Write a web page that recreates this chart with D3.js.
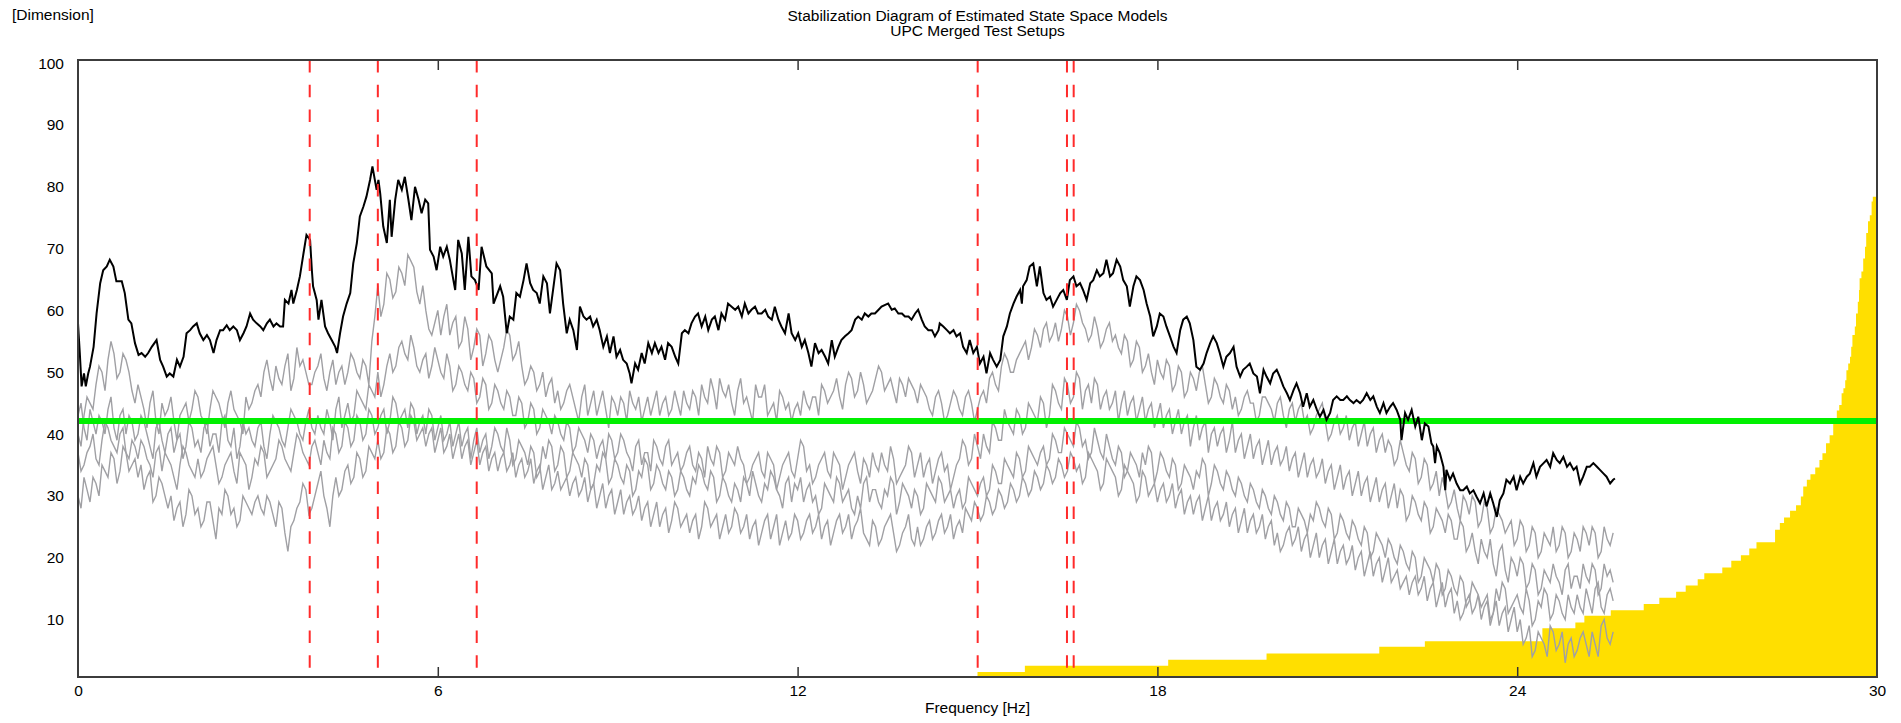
<!DOCTYPE html>
<html>
<head>
<meta charset="utf-8">
<script src="https://cdn.jsdelivr.net/npm/d3@7"></script>
<style>
html, body { margin: 0; padding: 0; background: #fff; }
svg { display: block; }
text { font-family: "Liberation Sans", Arial, sans-serif; fill: #000; }
</style>
</head>
<body>
<svg id="chart" width="1901" height="723"></svg>
<script>
// ---- axis ticks ----
const xTicks = [0, 6, 12, 18, 24, 30];
const xInnerTicks = [6, 12, 18, 24];
const yTicks = [10, 20, 30, 40, 50, 60, 70, 80, 90, 100];

// ---- picked natural frequencies [Hz] ----
const modeHz = [3.864, 5.0, 6.649, 15.003, 16.492, 16.604];

// ---- dimension threshold ----
const thresholdDim = 42.1;

// ---- stable-pole count histogram (step starts [Hz] and heights) ----
const stackStartHz = [15.00,15.79,18.18,19.82,21.70,22.46,24.42,24.97,25.12,25.56,26.11,26.37,26.65,26.81,27.01,27.12,27.42,27.57,27.73,27.87,27.99,28.30,28.38,28.45,28.55,28.65,28.73,28.77,28.83,28.89,28.97,29.04,29.09,29.15,29.21,29.27,29.33,29.37,29.41,29.44,29.47,29.49,29.52,29.55,29.57,29.59,29.63,29.65,29.68,29.70,29.71,29.74,29.77,29.80,29.82,29.85,29.88,29.91,29.93];
const stackCount = [1.5,2.5,3.5,4.5,5.6,6.5,8.6,9.5,10.6,11.5,12.5,13.5,14.5,15.5,16.5,17.5,18.4,19.5,20.4,21.5,22.5,24.5,25.6,26.5,27.6,28.5,29.9,31.5,32.6,33.5,34.6,35.8,36.9,38.5,39.8,42.3,43.8,44.7,46.6,47.4,48.7,50.3,51.4,52.5,54.1,56.0,57.4,59.5,61.4,63.3,65.2,66.3,68.4,70.3,72.5,74.4,75.4,77.6,78.4];
const stackEndHz = 30;

// ---- merged-setup trace (frequency [Hz], dimension) ----
const mergedTrace = [
[0.00,57.9],[0.03,53.1],[0.06,47.7],[0.10,49.8],[0.13,47.7],[0.17,49.8],[0.20,50.9],[0.26,54.1],[0.31,59.5],[0.37,64.4],[0.42,66.5],[0.48,67.1],[0.53,68.2],[0.59,67.1],[0.64,64.7],[0.73,64.7],[0.78,62.8],[0.84,58.5],[0.89,57.9],[0.95,54.7],
[1.01,52.8],[1.06,53.1],[1.12,52.5],[1.17,53.1],[1.23,54.1],[1.31,55.2],[1.37,52.0],[1.42,50.9],[1.48,49.3],[1.53,49.8],[1.59,49.3],[1.65,52.0],[1.70,50.9],[1.76,52.5],[1.81,56.3],[1.87,56.8],[1.92,57.4],[1.98,57.9],
[2.03,56.3],[2.09,55.2],[2.15,56.0],[2.20,55.2],[2.26,53.1],[2.31,55.2],[2.37,56.8],[2.42,56.8],[2.48,57.6],[2.53,56.8],[2.59,57.4],[2.65,56.8],[2.70,55.2],[2.76,56.3],[2.81,57.4],[2.87,59.5],[2.92,58.5],[2.98,57.9],
[3.04,57.4],[3.09,56.8],[3.15,57.9],[3.20,58.5],[3.26,57.4],[3.31,57.9],[3.37,57.4],[3.42,57.4],[3.45,61.7],[3.51,61.1],[3.56,63.3],[3.59,61.1],[3.65,63.3],[3.70,65.5],[3.76,69.2],[3.81,72.2],[3.87,71.4],[3.90,66.5],[3.92,63.9],[3.98,61.7],
[4.01,58.5],[4.06,61.7],[4.12,57.4],[4.17,56.3],[4.23,55.2],[4.29,54.1],[4.32,53.1],[4.37,56.3],[4.42,59.0],[4.48,61.1],[4.54,62.8],[4.59,67.6],[4.65,70.9],[4.70,75.2],[4.76,76.8],[4.81,78.4],[4.87,81.1],[4.91,83.3],[4.95,81.1],[4.98,79.5],
[5.01,81.1],[5.04,78.9],[5.09,73.6],[5.15,70.9],[5.20,77.9],[5.23,71.9],[5.29,77.9],[5.34,81.1],[5.40,79.5],[5.45,81.6],[5.51,77.9],[5.56,74.6],[5.62,80.0],[5.68,77.9],[5.73,75.7],[5.79,77.9],[5.84,77.3],[5.87,69.8],[5.93,68.7],[5.98,66.5],
[6.04,70.3],[6.09,68.7],[6.15,70.3],[6.20,68.2],[6.26,64.9],[6.29,63.3],[6.34,71.4],[6.40,69.2],[6.45,63.3],[6.51,71.9],[6.56,65.5],[6.62,64.9],[6.68,63.3],
[6.73,70.3],[6.81,67.1],[6.90,66.0],[6.93,61.1],[7.04,63.9],[7.09,62.2],[7.15,56.3],[7.20,59.0],[7.26,58.5],[7.31,62.8],[7.37,62.2],[7.43,64.9],[7.48,67.6],[7.54,64.4],[7.59,63.3],[7.65,62.8],[7.70,61.1],[7.76,65.5],[7.82,64.4],[7.87,59.5],[7.93,63.9],[7.98,67.6],
[8.04,66.5],[8.09,61.1],[8.15,56.3],[8.20,58.5],[8.26,56.8],[8.32,53.6],[8.37,60.6],[8.43,59.0],[8.48,58.5],[8.54,59.0],[8.59,57.4],[8.65,58.5],[8.70,56.8],[8.76,54.1],[8.82,55.8],[8.87,53.1],[8.93,55.8],[8.98,52.5],
[9.04,53.6],[9.09,52.0],[9.15,51.4],[9.20,49.8],[9.23,48.2],[9.29,51.4],[9.34,50.4],[9.40,53.1],[9.45,51.4],[9.51,54.7],[9.57,53.1],[9.62,54.7],[9.68,53.1],[9.73,54.1],[9.79,52.0],[9.84,54.7],[9.90,54.1],[9.96,52.5],
[10.01,51.4],[10.07,56.3],[10.12,56.8],[10.18,56.3],[10.23,57.9],[10.29,59.0],[10.34,59.5],[10.40,57.4],[10.46,59.0],[10.51,56.8],[10.57,58.5],[10.62,59.0],[10.68,56.8],[10.73,59.5],[10.79,58.5],[10.84,61.1],[10.90,60.6],[10.96,60.1],
[11.01,60.6],[11.07,59.0],[11.12,61.1],[11.18,59.5],[11.23,60.1],[11.29,60.6],[11.34,59.5],[11.40,59.5],[11.46,60.1],[11.51,59.0],[11.57,58.5],[11.62,60.6],[11.68,58.5],[11.73,57.4],[11.79,56.3],[11.85,59.5],[11.90,56.3],[11.96,55.2],
[12.01,56.3],[12.07,54.1],[12.12,55.2],[12.18,53.1],[12.23,50.9],[12.29,54.7],[12.35,53.1],[12.40,53.6],[12.46,52.5],[12.51,51.4],[12.57,55.2],[12.62,52.5],[12.68,54.1],[12.73,55.2],[12.79,55.8],[12.85,56.3],[12.90,56.8],[12.96,58.5],
[13.01,59.0],[13.07,58.5],[13.12,59.5],[13.18,59.0],[13.23,59.5],[13.29,59.5],[13.35,60.1],[13.40,60.6],[13.46,60.9],[13.51,61.1],[13.57,60.1],[13.62,60.3],[13.68,59.5],[13.74,59.5],[13.79,59.0],[13.85,59.0],[13.90,58.5],[13.96,59.5],
[14.01,60.1],[14.07,58.5],[14.12,57.4],[14.18,56.8],[14.24,56.8],[14.29,55.8],[14.35,56.8],
[14.37,57.9],[14.43,57.4],[14.49,56.8],[14.54,56.3],[14.60,56.8],[14.65,55.8],[14.71,56.3],[14.76,54.1],[14.82,53.1],[14.87,55.2],[14.93,53.1],[14.99,54.1],
[15.04,51.4],[15.10,52.5],[15.15,49.8],[15.21,53.1],[15.26,52.0],[15.32,50.9],[15.38,52.0],[15.43,55.8],[15.49,57.4],[15.54,59.5],[15.60,61.1],[15.65,62.2],[15.71,63.3],[15.74,61.1],[15.76,63.9],[15.82,64.9],[15.87,67.1],[15.93,67.6],[15.99,63.9],
[16.04,67.1],[16.10,62.8],[16.15,61.7],[16.21,62.2],[16.26,60.6],[16.32,61.7],[16.38,62.8],[16.43,63.3],[16.49,61.7],[16.54,64.9],[16.60,65.5],[16.65,63.9],[16.71,64.4],[16.76,63.3],[16.82,61.7],[16.88,64.4],[16.93,64.9],[16.99,66.5],
[17.04,65.5],[17.10,66.0],[17.15,68.2],[17.21,65.5],[17.26,66.0],[17.32,68.2],[17.38,67.1],[17.43,64.9],[17.49,63.9],[17.54,60.6],[17.60,63.9],[17.65,65.5],[17.71,64.9],[17.77,63.3],[17.82,61.1],[17.88,59.0],[17.93,55.8],[17.99,57.4],
[18.04,59.5],[18.10,59.0],[18.15,57.4],[18.21,55.8],[18.27,54.1],[18.32,53.1],[18.38,56.8],[18.43,58.5],[18.49,59.0],[18.54,57.9],[18.60,55.2],[18.65,50.9],[18.71,50.4],[18.77,51.4],[18.82,53.1],[18.88,54.7],[18.93,55.8],[18.99,54.7],
[19.04,53.1],[19.10,50.9],[19.15,52.5],[19.21,53.1],[19.27,54.1],[19.32,50.9],[19.38,49.3],[19.43,50.4],[19.49,50.9],[19.54,51.4],[19.60,49.8],[19.66,49.3],[19.71,46.6],[19.77,50.4],[19.82,49.3],[19.88,48.2],[19.93,49.8],[19.99,50.4],
[20.04,49.3],[20.10,47.7],[20.16,46.6],[20.21,45.5],[20.27,47.1],[20.32,48.2],[20.38,46.6],[20.43,44.4],[20.49,46.6],[20.54,44.4],[20.60,45.5],[20.66,43.9],[20.71,42.8],[20.77,43.9],[20.82,42.3],[20.88,43.4],[20.93,45.5],[20.99,46.1],
[21.05,45.5],[21.10,45.5],[21.16,46.1],[21.21,45.5],[21.27,45.0],[21.32,45.5],[21.38,45.0],[21.43,45.5],[21.49,46.6],[21.55,45.5],[21.60,46.1],[21.66,44.4],[21.71,43.4],[21.77,45.0],[21.82,43.4],[21.88,44.4],[21.93,45.0],[21.99,43.9],
[22.05,42.3],[22.07,39.0],[22.13,43.4],[22.18,42.3],[22.24,43.9],[22.30,41.2],[22.35,42.8],[22.41,39.0],[22.46,41.7],[22.52,41.2],[22.57,38.5],[22.60,38.0],[22.63,35.3],[22.66,38.0],[22.71,36.9],[22.77,34.7],[22.80,30.9],[22.82,34.2],[22.88,32.6],[22.93,33.6],[22.99,32.0],
[23.05,30.9],[23.10,30.9],[23.16,31.5],[23.21,30.4],[23.27,30.9],[23.32,29.9],[23.38,28.8],[23.44,30.4],[23.49,28.3],[23.55,30.4],[23.60,28.8],[23.66,26.6],[23.71,29.3],[23.77,30.4],[23.82,32.6],[23.88,32.0],[23.94,33.1],[23.99,30.9],
[24.05,33.1],[24.10,32.0],[24.16,33.1],[24.21,33.6],[24.27,35.3],[24.32,33.1],[24.38,34.7],[24.44,35.3],[24.49,35.8],[24.55,34.7],[24.60,36.9],[24.66,35.8],[24.71,35.3],[24.77,36.3],[24.83,34.7],[24.88,35.3],[24.94,34.2],[24.99,34.7],
[25.05,32.0],[25.10,33.1],[25.16,34.7],[25.21,34.7],[25.27,35.3],[25.33,34.7],[25.38,34.2],[25.44,33.6],[25.49,33.1],[25.55,32.0],[25.60,32.6],[25.63,32.8]
];

// ---- single test-setup traces, sampled on a common frequency grid [Hz] ----
const setupFreqHz = [
0,0.05,0.1,0.15,0.2,0.25,0.3,0.35,0.4,0.45,0.5,0.55,0.6,0.65,0.7,0.75,0.8,0.85,0.9,0.95,
1,1.05,1.1,1.15,1.2,1.25,1.3,1.35,1.4,1.45,1.5,1.55,1.6,1.65,1.7,1.75,1.8,1.85,1.9,1.95,
2,2.05,2.1,2.15,2.2,2.25,2.3,2.35,2.4,2.45,2.5,2.55,2.6,2.65,2.7,2.75,2.8,2.85,2.9,2.95,
3,3.05,3.1,3.15,3.2,3.25,3.3,3.35,3.4,3.45,3.5,3.55,3.6,3.65,3.7,3.75,3.8,3.85,3.9,3.95,
4,4.05,4.1,4.15,4.2,4.25,4.3,4.35,4.4,4.45,4.5,4.55,4.6,4.65,4.7,4.75,4.8,4.85,4.9,4.95,
5,5.05,5.1,5.15,5.2,5.25,5.3,5.35,5.4,5.45,5.5,5.55,5.6,5.65,5.7,5.75,5.8,5.85,5.9,5.95,
6,6.05,6.1,6.15,6.2,6.25,6.3,6.35,6.4,6.45,6.5,6.55,6.6,6.65,6.7,6.75,6.8,6.85,6.9,6.95,
7,7.05,7.1,7.15,7.2,7.25,7.3,7.35,7.4,7.45,7.5,7.55,7.6,7.65,7.7,7.75,7.8,7.85,7.9,7.95,
8,8.05,8.1,8.15,8.2,8.25,8.3,8.35,8.4,8.45,8.5,8.55,8.6,8.65,8.7,8.75,8.8,8.85,8.9,8.95,
9,9.05,9.1,9.15,9.2,9.25,9.3,9.35,9.4,9.45,9.5,9.55,9.6,9.65,9.7,9.75,9.8,9.85,9.9,9.95,
10,10.05,10.1,10.15,10.2,10.25,10.3,10.35,10.4,10.45,10.5,10.55,10.6,10.65,10.7,10.75,10.8,10.85,10.9,10.95,
11,11.05,11.1,11.15,11.2,11.25,11.3,11.35,11.4,11.45,11.5,11.55,11.6,11.65,11.7,11.75,11.8,11.85,11.9,11.95,
12,12.05,12.1,12.15,12.2,12.25,12.3,12.35,12.4,12.45,12.5,12.55,12.6,12.65,12.7,12.75,12.8,12.85,12.9,12.95,
13,13.05,13.1,13.15,13.2,13.25,13.3,13.35,13.4,13.45,13.5,13.55,13.6,13.65,13.7,13.75,13.8,13.85,13.9,13.95,
14,14.05,14.1,14.15,14.2,14.25,14.3,14.35,14.4,14.45,14.5,14.55,14.6,14.65,14.7,14.75,14.8,14.85,14.9,14.95,
15,15.05,15.1,15.15,15.2,15.25,15.3,15.35,15.4,15.45,15.5,15.55,15.6,15.65,15.7,15.75,15.8,15.85,15.9,15.95,
16,16.05,16.1,16.15,16.2,16.25,16.3,16.35,16.4,16.45,16.5,16.55,16.6,16.65,16.7,16.75,16.8,16.85,16.9,16.95,
17,17.05,17.1,17.15,17.2,17.25,17.3,17.35,17.4,17.45,17.5,17.55,17.6,17.65,17.7,17.75,17.8,17.85,17.9,17.95,
18,18.05,18.1,18.15,18.2,18.25,18.3,18.35,18.4,18.45,18.5,18.55,18.6,18.65,18.7,18.75,18.8,18.85,18.9,18.95,
19,19.05,19.1,19.15,19.2,19.25,19.3,19.35,19.4,19.45,19.5,19.55,19.6,19.65,19.7,19.75,19.8,19.85,19.9,19.95,
20,20.05,20.1,20.15,20.2,20.25,20.3,20.35,20.4,20.45,20.5,20.55,20.6,20.65,20.7,20.75,20.8,20.85,20.9,20.95,
21,21.05,21.1,21.15,21.2,21.25,21.3,21.35,21.4,21.45,21.5,21.55,21.6,21.65,21.7,21.75,21.8,21.85,21.9,21.95,
22,22.05,22.1,22.15,22.2,22.25,22.3,22.35,22.4,22.45,22.5,22.55,22.6,22.65,22.7,22.75,22.8,22.85,22.9,22.95,
23,23.05,23.1,23.15,23.2,23.25,23.3,23.35,23.4,23.45,23.5,23.55,23.6,23.65,23.7,23.75,23.8,23.85,23.9,23.95,
24,24.05,24.1,24.15,24.2,24.25,24.3,24.35,24.4,24.45,24.5,24.55,24.6,24.65,24.7,24.75,24.8,24.85,24.9,24.95,
25,25.05,25.1,25.15,25.2,25.25,25.3,25.35,25.4,25.45,25.5,25.55,25.6
];

const setupA = [
40,38,43,46,45,44,48,51,50,47,52,55,53,49,50,53,52,50,47,45,
48,46,44,41,45,47,42,40,45,43,44,46,42,39,43,44,45,42,44,47,
46,43,42,40,44,47,46,45,43,41,45,47,44,43,42,40,46,44,45,47,
48,46,50,52,49,47,51,49,48,51,53,47,49,54,51,52,50,48,48,50,
51,53,49,47,50,52,48,50,51,48,50,53,52,50,49,52,51,48,55,59,
64,59,61,66,65,62,63,67,66,64,69,68,67,63,61,64,60,57,56,58,
60,56,59,61,56,58,59,54,55,59,57,52,54,57,56,51,53,56,55,52,
50,52,54,57,56,52,53,55,51,48,49,51,50,47,48,50,46,48,49,45,
47,44,45,47,48,46,44,42,46,48,43,45,47,43,45,47,44,41,46,45,
43,46,45,42,47,45,44,46,42,44,46,43,45,47,43,45,46,43,44,47,
45,43,47,45,44,47,46,43,48,46,45,49,47,44,49,47,46,48,45,43,
47,49,45,46,44,42,48,46,46,48,43,44,45,42,47,46,44,45,42,44,
45,43,47,45,44,46,46,43,48,47,45,46,47,49,46,44,48,50,49,46,
47,50,48,45,46,47,49,51,50,47,48,49,47,45,49,48,46,49,48,47,
45,48,47,46,44,43,46,47,45,42,43,45,47,46,44,43,46,47,45,42,
44,46,47,45,49,50,48,47,51,53,52,50,50,52,53,54,55,52,54,57,
56,54,57,58,55,56,58,55,57,60,59,56,58,61,60,58,57,55,56,59,
57,54,55,57,58,55,56,54,53,56,55,51,52,55,54,50,51,53,50,48,
52,50,49,52,51,47,48,51,50,46,47,50,49,47,50,51,48,45,46,49,
48,46,45,48,47,44,46,43,44,46,47,45,45,42,43,46,46,45,44,42,
45,46,43,41,44,45,42,44,45,42,43,40,41,43,44,45,42,39,40,42,
43,40,41,43,39,41,42,38,40,42,38,40,41,37,39,40,37,39,38,35,
36,39,37,35,34,37,36,32,33,36,35,31,32,34,30,33,31,28,29,31,
28,26,30,29,27,30,29,25,26,29,28,24,25,28,27,26,24,25,26,22,
23,26,25,21,22,25,24,20,21,24,23,22,25,21,22,25,24,20,21,24,
23,21,25,24,22,25,24,20,21,25,23,22,24
];

const setupB = [
43,45,41,39,44,42,40,43,42,40,44,46,41,39,43,44,40,43,42,39,
40,43,42,40,38,36,41,42,39,37,40,41,37,39,40,36,38,42,41,38,
39,37,41,42,38,40,40,37,42,43,39,38,41,36,38,42,40,41,39,38,
41,42,38,36,40,43,42,41,39,38,41,44,43,42,40,39,42,44,41,40,
43,41,40,44,42,39,44,46,41,43,45,42,43,47,46,45,44,48,47,46,
50,46,48,51,53,50,51,54,55,53,52,56,54,51,50,52,53,49,51,54,
52,50,49,53,51,47,48,51,50,48,47,50,49,45,46,49,48,44,45,48,
47,45,44,47,46,43,43,46,45,41,42,45,44,40,41,44,43,42,40,43,
42,40,39,42,41,37,38,41,40,39,37,40,39,36,38,39,36,40,39,36,
37,40,39,37,36,34,38,39,35,37,37,34,39,38,36,35,38,39,35,36,
37,34,35,37,38,35,34,37,36,33,38,36,35,38,37,33,34,37,36,35,
38,36,35,32,33,35,36,37,34,33,37,36,35,31,33,35,36,37,34,33,
36,39,38,34,35,32,33,35,36,37,34,33,37,36,35,31,33,35,36,37,
34,32,36,35,33,37,35,34,37,35,34,38,36,32,33,34,35,38,37,33,
35,37,33,35,36,32,34,36,37,34,35,31,33,35,36,39,38,35,36,40,
38,36,40,38,37,42,41,39,39,44,42,41,40,44,43,40,41,45,44,43,
42,46,45,41,43,48,47,45,44,49,48,45,46,50,49,44,47,48,45,49,
48,44,46,47,44,45,47,42,45,47,43,45,46,42,44,46,42,44,45,41,
43,45,41,43,44,40,42,44,40,42,43,38,41,43,39,41,42,37,40,41,
38,40,41,37,39,42,37,39,40,36,38,40,36,38,39,35,37,39,35,37,
38,35,36,38,34,36,37,33,35,37,33,35,36,33,34,36,32,34,35,31,
33,35,31,33,34,30,32,34,30,32,33,29,31,33,29,31,32,28,30,32,
28,31,30,26,27,30,29,27,26,29,28,24,25,28,27,26,24,27,26,23,
23,26,25,21,22,24,21,19,23,21,20,23,19,17,21,22,18,16,20,19,
17,20,19,15,16,19,18,14,15,18,17,16,19,17,16,14,18,19,15,17,
17,15,19,17,16,19,18,14,15,19,17,18,16
];

const setupC = [
37,34,35,37,38,40,36,35,39,42,41,39,38,37,40,41,37,36,39,38,
36,39,38,36,35,33,37,38,34,37,36,35,33,31,35,38,37,35,34,33,
36,33,34,36,37,38,35,32,33,35,36,37,34,32,37,36,35,31,33,36,
35,38,37,33,34,35,36,39,38,36,35,34,37,40,39,37,36,35,38,39,
37,35,39,37,36,41,40,37,38,42,41,38,39,43,42,39,40,44,43,40,
41,43,44,40,42,46,45,42,43,44,41,45,44,40,42,43,40,44,43,39,
41,43,39,40,42,38,40,42,38,40,41,36,39,41,37,39,40,36,38,41,
40,38,37,41,39,35,36,39,38,37,35,38,37,33,34,38,36,39,38,34,
35,38,37,33,34,37,36,35,33,36,35,31,32,35,34,37,36,32,33,36,
35,33,32,35,34,30,31,34,33,36,35,31,32,35,34,32,31,34,33,30,
31,34,33,31,30,33,32,35,34,32,31,34,33,29,30,33,32,30,29,32,
31,29,33,32,30,34,32,30,29,32,31,34,33,31,30,28,32,33,29,32,
31,33,29,31,32,29,30,27,28,32,31,30,29,33,32,29,30,31,28,27,
30,28,32,33,29,31,31,29,28,31,30,33,32,27,29,32,31,30,28,31,
30,27,28,32,31,30,29,33,32,29,30,31,28,30,31,28,29,33,32,31,
30,32,33,30,31,35,34,32,32,36,35,34,33,37,36,33,34,38,37,36,
35,37,38,35,36,40,39,37,37,41,40,39,38,42,41,38,39,36,37,41,
39,37,36,40,38,36,35,38,37,33,34,37,36,35,33,37,35,38,37,32,
34,37,36,34,33,36,35,31,32,35,34,33,31,34,33,36,35,30,32,35,
34,32,31,34,33,31,30,33,32,30,29,32,31,29,28,31,30,28,27,30,
29,27,26,29,28,25,25,28,27,26,24,27,26,29,28,26,25,28,27,23,
24,27,26,24,23,26,25,23,22,25,24,20,21,24,23,22,20,23,22,20,
19,22,21,19,18,21,20,16,17,20,19,18,16,19,18,14,15,18,17,15,
14,17,16,12,13,16,15,14,12,13,14,10,11,15,13,16,15,11,12,13,
14,12,11,15,13,9,10,13,12,15,14,10,11,14,13,11,10,14,12,11,
14,12,11,15,13,11,15,16,12,11,14,15,13
];

const setupD = [
30,28,33,31,29,33,32,30,35,34,33,37,36,32,34,38,37,34,35,36,
33,35,31,33,34,29,30,33,32,30,28,30,26,28,29,25,27,31,30,27,
28,25,26,29,29,26,23,28,27,31,30,27,28,25,26,30,29,28,27,29,
30,28,27,30,29,27,25,29,28,24,21,25,26,28,29,32,31,27,28,30,
32,34,30,28,25,30,33,30,31,34,35,32,33,37,36,33,34,38,37,36,
39,36,37,41,40,37,38,42,41,38,39,43,42,39,40,41,38,40,41,37,
39,41,37,38,40,36,38,40,36,38,39,35,37,39,35,37,38,34,36,37,
34,36,37,34,35,37,33,35,36,33,34,36,32,34,35,31,33,35,31,32,
34,31,32,33,30,32,33,30,31,33,29,31,32,28,30,32,28,30,31,27,
29,31,27,29,30,27,28,30,26,28,29,25,27,29,25,27,28,24,26,29,
28,25,26,27,24,26,27,23,25,29,28,25,26,27,23,25,27,24,25,28,
27,24,25,27,23,25,26,22,24,26,27,23,25,27,22,24,26,23,24,27,
26,23,24,26,27,24,25,27,23,25,26,22,24,26,27,24,25,27,23,25,
26,28,24,23,22,26,25,22,23,25,26,27,24,21,22,24,25,27,23,22,
25,22,23,25,26,23,24,26,27,24,25,27,23,25,26,24,28,27,26,29,
28,26,27,30,29,27,28,31,30,28,29,32,31,29,30,33,32,30,31,34,
33,31,32,35,34,32,33,36,35,33,34,37,36,34,35,32,33,37,36,35,
34,31,32,36,35,34,33,30,31,35,34,33,32,29,30,34,33,30,31,32,
29,31,32,29,30,32,28,30,31,27,29,30,27,29,30,26,28,30,26,28,
29,26,27,29,25,27,28,24,26,28,24,26,27,24,25,27,23,25,26,22,
24,21,22,24,25,22,23,25,21,23,24,20,22,24,20,22,23,19,21,23,
19,21,22,19,20,22,18,20,21,17,19,21,17,19,20,16,18,20,16,17,
18,15,16,17,14,16,17,14,15,17,13,15,16,12,14,16,12,14,15,11,
13,10,11,13,14,11,12,14,10,12,13,9,11,13,9,11,12,8,10,12,
8,10,6,7,9,4,5,8,7,6,4,9,8,5,6,8,3,6,7,4,
5,7,8,6,4,8,6,4,9,10,7,6,8
];

const setupTraces = [setupA, setupB, setupC, setupD];

// ---- layout ----
const plot = { left: 78, right: 1877, top: 60, bottom: 677 };
const fontSize = "15.5px";

const svg = d3.select("#chart");
svg.append("rect").attr("width", 1901).attr("height", 723).attr("fill", "#fff");

const x = d3.scaleLinear().domain([0, 30]).range([plot.left, plot.right]);
const y = d3.scaleLinear().domain([0.7, 100.5]).range([plot.bottom, plot.top]);

svg.append("clipPath").attr("id", "plot-clip")
  .append("rect")
  .attr("x", plot.left).attr("y", plot.top)
  .attr("width", plot.right - plot.left).attr("height", plot.bottom - plot.top);

const layer = svg.append("g").attr("clip-path", "url(#plot-clip)");

// stable-pole histogram (yellow staircase)
const stackData = stackStartHz.map((f, i) => [f, stackCount[i]]);
stackData.push([stackEndHz, stackCount[stackCount.length - 1]]);
layer.append("path")
  .datum(stackData)
  .attr("fill", "#ffdf00")
  .attr("d", d3.area()
    .curve(d3.curveStepAfter)
    .x(d => x(d[0]))
    .y0(y(y.domain()[0]))
    .y1(d => y(d[1])));

// single-setup traces (grey)
const greyLine = d3.line()
  .defined(d => d[1] != null)
  .x(d => x(d[0]))
  .y(d => y(d[1]));
setupTraces.forEach(series => {
  layer.append("path")
    .datum(setupFreqHz.map((f, i) => [f, series[i]]))
    .attr("fill", "none")
    .attr("stroke", "#a0a0a4")
    .attr("stroke-width", 1.4)
    .attr("d", greyLine);
});

// dimension threshold
layer.append("line")
  .attr("x1", x(0)).attr("x2", x(30))
  .attr("y1", y(thresholdDim)).attr("y2", y(thresholdDim))
  .attr("stroke", "#00f000")
  .attr("stroke-width", 6);

// merged-setup trace (black)
layer.append("path")
  .datum(mergedTrace)
  .attr("fill", "none")
  .attr("stroke", "#000")
  .attr("stroke-width", 2)
  .attr("d", d3.line().x(d => x(d[0])).y(d => y(d[1])));

// picked modes (red dashed)
layer.selectAll("line.mode")
  .data(modeHz)
  .join("line")
  .attr("class", "mode")
  .attr("x1", d => x(d)).attr("x2", d => x(d))
  .attr("y1", plot.top).attr("y2", plot.bottom)
  .attr("stroke", "#ff2b2b")
  .attr("stroke-width", 2)
  .attr("stroke-dasharray", "12.5,12.3");

// ---- axes ----
const xAxisBottom = d3.axisBottom(x)
  .tickValues(xTicks)
  .tickSizeInner(0).tickSizeOuter(0)
  .tickPadding(8)
  .tickFormat(d3.format("d"));
const gxb = svg.append("g")
  .attr("transform", `translate(0,${plot.bottom})`)
  .call(xAxisBottom);
gxb.select(".domain").remove();
gxb.selectAll("text").attr("font-size", fontSize).attr("font-family", null).attr("fill", "#000");

// inner tick marks on bottom and top edges
svg.append("g").attr("transform", `translate(0,${plot.bottom})`)
  .call(d3.axisBottom(x).tickValues(xInnerTicks).tickSizeInner(-10).tickSizeOuter(0).tickFormat(""))
  .call(g => g.select(".domain").remove())
  .selectAll("line").attr("stroke", "#333").attr("stroke-width", 1.5);
svg.append("g").attr("transform", `translate(0,${plot.top})`)
  .call(d3.axisTop(x).tickValues(xInnerTicks).tickSizeInner(-10).tickSizeOuter(0).tickFormat(""))
  .call(g => g.select(".domain").remove())
  .selectAll("line").attr("stroke", "#333").attr("stroke-width", 1.5);

const yAxis = d3.axisLeft(y)
  .tickValues(yTicks)
  .tickSizeInner(0).tickSizeOuter(0)
  .tickPadding(14)
  .tickFormat(d3.format("d"));
const gy = svg.append("g")
  .attr("transform", `translate(${plot.left},0)`)
  .call(yAxis);
gy.select(".domain").remove();
gy.selectAll("text").attr("font-size", fontSize).attr("font-family", null).attr("fill", "#000");

// plot frame
svg.append("rect")
  .attr("x", plot.left).attr("y", plot.top)
  .attr("width", plot.right - plot.left).attr("height", plot.bottom - plot.top)
  .attr("fill", "none")
  .attr("stroke", "#3c3c3c")
  .attr("stroke-width", 2);

// ---- titles ----
const cx = (plot.left + plot.right) / 2;
svg.append("text").attr("x", cx).attr("y", 21)
  .attr("text-anchor", "middle").attr("font-size", fontSize)
  .text("Stabilization Diagram of Estimated State Space Models");
svg.append("text").attr("x", cx).attr("y", 36)
  .attr("text-anchor", "middle").attr("font-size", fontSize)
  .text("UPC Merged Test Setups");
svg.append("text").attr("x", 12).attr("y", 20)
  .attr("font-size", fontSize)
  .text("[Dimension]");
svg.append("text").attr("x", cx).attr("y", 713)
  .attr("text-anchor", "middle").attr("font-size", fontSize)
  .text("Frequency [Hz]");
</script>
</body>
</html>
